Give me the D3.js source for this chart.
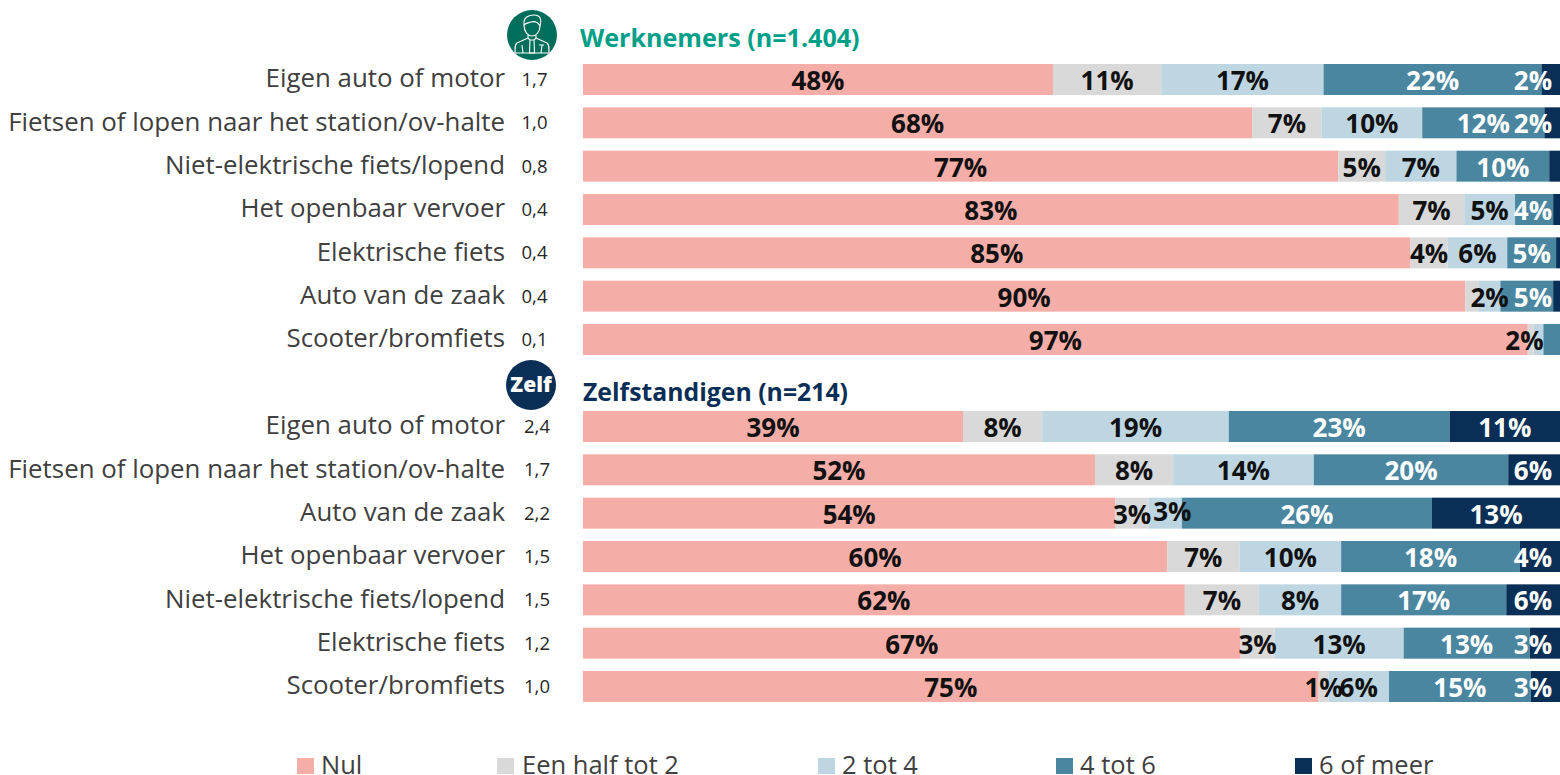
<!DOCTYPE html>
<html lang="nl">
<head>
<meta charset="utf-8">
<script src="https://d3js.org/d3.v7.min.js"></script>
<style>
html,body{margin:0;padding:0;background:#fff;overflow:hidden}
svg{display:block;font-family:"Open Sans",sans-serif}
</style>
</head>
<body>
<svg id="chart" width="1560" height="775"></svg>
<script>
const seriesNames = ["Nul","Een half tot 2","2 tot 4","4 tot 6","6 of meer"];
const seriesColors = ["#f4ada7","#d9d9d9","#bdd6e2","#4a86a0","#0a2f56"];

const werknemersCategories = ["Eigen auto of motor","Fietsen of lopen naar het station/ov-halte","Niet-elektrische fiets/lopend","Het openbaar vervoer","Elektrische fiets","Auto van de zaak","Scooter/bromfiets"];
const werknemersAverages = ["1,7","1,0","0,8","0,4","0,4","0,4","0,1"];
const werknemersValues = [
  [48.1,11.1,16.6,22.3,1.9],
  [68.5,7.1,10.3,12.5,1.6],
  [77.3,4.8,7.3,9.5,1.1],
  [83.5,6.7,5.2,3.9,0.7],
  [84.7,3.8,6.1,5.0,0.4],
  [90.3,1.4,2.2,5.4,0.7],
  [96.7,0.6,1.0,1.7,0]
];
const werknemersLabels = [
  [48,11,17,22,2],
  [68,7,10,12,2],
  [77,5,7,10,null],
  [83,7,5,4,null],
  [85,4,6,5,null],
  [90,null,2,5,null],
  [97,null,2,null,null]
];

const zelfCategories = ["Eigen auto of motor","Fietsen of lopen naar het station/ov-halte","Auto van de zaak","Het openbaar vervoer","Niet-elektrische fiets/lopend","Elektrische fiets","Scooter/bromfiets"];
const zelfAverages = ["2,4","1,7","2,2","1,5","1,5","1,2","1,0"];
const zelfValues = [
  [38.9,8.1,19.1,22.6,11.3],
  [52.4,8.0,14.4,19.9,5.3],
  [54.5,3.4,3.4,25.6,13.1],
  [59.8,7.4,10.4,18.3,4.1],
  [61.6,7.6,8.4,16.9,5.5],
  [67.3,3.5,13.2,12.9,3.1],
  [75.3,1.0,6.2,14.5,3.0]
];
const zelfLabels = [
  [39,8,19,23,11],
  [52,8,14,20,6],
  [54,3,3,26,13],
  [60,7,10,18,4],
  [62,7,8,17,6],
  [67,3,13,13,3],
  [75,1,6,15,3]
];

const svg = d3.select("#chart");
const x = d3.scaleLinear().domain([0,100]).range([583,1560]);
const color = d3.scaleOrdinal().domain(seriesNames).range(seriesColors);
const labelRightLimit = 1533;

// hand-placed labels in the reference: [dx, dy] keyed by group/row/series
const labelNudges = {"w-5-3":[7,0],"w-6-2":[-14,0],"z-2-2":[7,-3]};

function drawGroup(key, cats, avgs, vals, labels, top, bottom, avgX){
  const y = d3.scaleBand().domain(cats).range([top,bottom]).paddingInner(0.285).paddingOuter(0);
  const g = svg.append("g");
  const axis = d3.axisLeft(y).tickSize(0).tickPadding(0);
  const ax = g.append("g").attr("transform","translate(505,0)").call(axis);
  ax.select(".domain").remove();
  ax.selectAll("text").attr("font-family",'"Open Sans",sans-serif').attr("font-size",25.85).attr("fill","#404040").attr("dy","0.3em");

  const rects = g.append("g"), texts = g.append("g");
  cats.forEach((c,i)=>{
    texts.append("text").attr("x",avgX).attr("y",y(c)+y.bandwidth()/2).attr("dy","0.35em")
      .attr("text-anchor","middle").attr("font-size",18.5).attr("fill","#262626").text(avgs[i]);
    let cum = 0;
    seriesNames.forEach((s,j)=>{
      const v = vals[i][j];
      const x0 = x(cum), x1 = x(cum+v);
      cum += v;
      if(v>0) rects.append("rect").attr("x",x0).attr("y",y(c)).attr("width",x1-x0).attr("height",y.bandwidth()).attr("fill",color(s));
      const lab = labels[i][j];
      if(lab===null) return;
      const n = labelNudges[key+"-"+i+"-"+j] || [0,0];
      let cx = (x0+x1)/2 + n[0];
      if(cx>labelRightLimit) cx = labelRightLimit;
      texts.append("text").attr("x",cx).attr("y",y(c)+y.bandwidth()/2+n[1]+1).attr("dy","0.36em")
        .attr("text-anchor","middle").attr("font-size",26).attr("font-weight",700)
        .attr("fill", j>=3 ? "#ffffff" : "#111111").text(lab+"%");
    });
  });
}
drawGroup("w",werknemersCategories,werknemersAverages,werknemersValues,werknemersLabels,64,355,534.5);
drawGroup("z",zelfCategories,zelfAverages,zelfValues,zelfLabels,411,702,537);

// group titles
svg.append("text").attr("x",580).attr("y",47).attr("font-size",25.1).attr("font-weight",700).attr("fill","#00a088").text("Werknemers (n=1.404)");
svg.append("text").attr("x",583).attr("y",401).attr("font-size",24.8).attr("font-weight",700).attr("fill","#0a2f56").text("Zelfstandigen (n=214)");

// icons
const w = svg.append("g").attr("transform","translate(532,35)");
w.append("circle").attr("r",25).attr("fill","#006e5b");
const iconLine = {fill:"none",stroke:"#fff","stroke-width":1.1,"stroke-linejoin":"round"};
function stroke(sel){Object.entries(iconLine).forEach(([k,v])=>sel.attr(k,v));return sel;}
stroke(w.append("path")).attr("d","M-8,-10 C-9,-18 -3,-20 2,-20 C8,-20 10,-16 8,-9 C6,-13 3,-14 -1,-13 C-4,-12 -6,-12 -8,-10 Z");
stroke(w.append("path")).attr("d","M-8,-10 C-8,-3 -4,1 0,1 C4,1 8,-3 8,-9");
stroke(w.append("path")).attr("d","M-4,0 L-4,3 L-15,8 C-17,9 -17,12 -17,18 L17,18 C17,12 17,9 15,8 L4,3 L4,0");
stroke(w.append("path")).attr("d","M-2,5 L2,5 L2.5,18 L-2.5,18 Z M-4,3 L-2,5 M4,3 L2,5");
stroke(w.append("path")).attr("d","M-10,10 L-9,18 M10,10 L9,18 M7,10 L12,10");

const z = svg.append("g").attr("transform","translate(531,385)");
z.append("circle").attr("r",25).attr("fill","#0a2f56");
z.append("text").attr("text-anchor","middle").attr("y",7).attr("font-size",21).attr("font-weight",800).attr("fill","#fff").text("Zelf");

// legend
const legendX = d3.scaleOrdinal().domain(seriesNames).range([297,497,818,1056,1295]);
const legend = svg.append("g").selectAll("g").data(seriesNames).join("g").attr("transform",d=>`translate(${legendX(d)},758)`);
legend.append("rect").attr("width",17).attr("height",16).attr("fill",d=>color(d));
legend.append("text").attr("x",d=>d==="Een half tot 2"?25:24).attr("y",16).attr("font-size",25.5).attr("fill","#404040").text(d=>d);
</script>
</body>
</html>
